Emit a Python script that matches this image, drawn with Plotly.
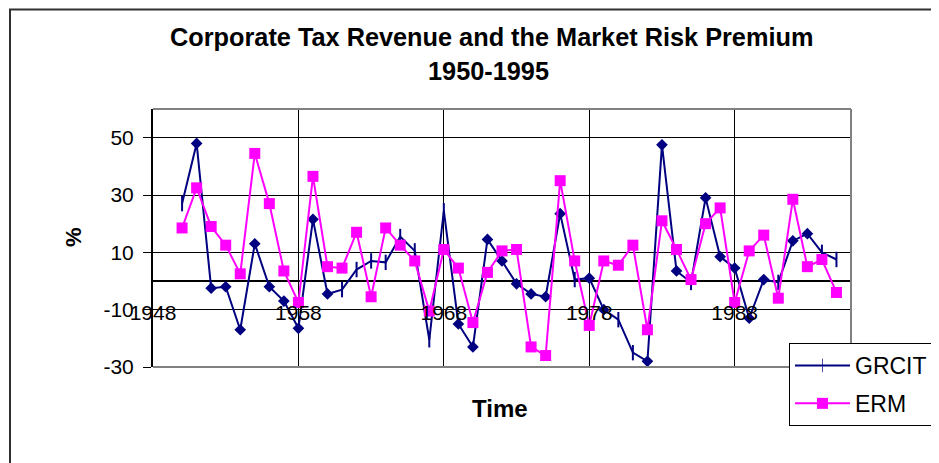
import plotly.graph_objects as go

years = [1950, 1951, 1952, 1953, 1954, 1955, 1956, 1957, 1958, 1959,
         1960, 1961, 1962, 1963, 1964, 1965, 1966, 1967, 1968, 1969,
         1970, 1971, 1972, 1973, 1974, 1975, 1976, 1977, 1978, 1979,
         1980, 1981, 1982, 1983, 1984, 1985, 1986, 1987, 1988, 1989,
         1990, 1991, 1992, 1993, 1994, 1995]

grcit = [27, 48, -2.5, -2, -17, 13, -2, -7, -16.5, 21.5,
         -4.5, -3, 4, 7, 6.5, 15.5, 10.5, -20.5, 24.5, -15,
         -23, 14.5, 7, -1, -4.5, -5.5, 23.5, 0.5, 1, -10,
         -13.5, -25, -28, 47.5, 3.5, -0.5, 29, 8.5, 4.5, -13,
         0.5, -0.5, 14, 16.5, 10, 7.5]

erm = [18.5, 32.5, 19, 12.5, 2.5, 44.5, 27, 3.5, -7.5, 36.5,
       5, 4.5, 17, -5.5, 18.5, 12.5, 7, -10.5, 11, 4.5,
       -14.5, 3, 10.5, 11, -23, -26, 35, 7, -15.5, 7,
       5.5, 12.5, -17, 21, 11, 0.5, 20, 25.5, -7.5, 10.5,
       16, -6, 28.5, 5, 7.5, -4]

# marker style per GRCIT point as seen in the picture ('D' diamond, '+' cross)
grcit_marks = ['+', 'D', 'D', 'D', 'D', 'D', 'D', 'D', 'D', 'D',
               'D', '+', '+', '+', '+', '+', '+', '+', '+', 'D',
               'D', 'D', 'D', 'D', 'D', 'D', 'D', '+', 'D', 'D',
               '+', '+', 'D', 'D', 'D', '+', 'D', 'D', 'D', 'D',
               'D', '+', 'D', 'D', '+', '+']

x_tick_labels = ['1948', '1958', '1968', '1978', '1988']
x_tick_vals = [1948, 1958, 1968, 1978, 1988]
y_tick_vals = [-30, -10, 10, 30, 50]
y_tick_labels = ['-30', '-10', '10', '30', '50']

NAVY = '#000080'
MAG = '#FF00FF'
FONT = 'Liberation Sans, Arial, sans-serif'

# page offset from the default 8px body margin
OFF = 8
W, H = 939 - OFF, 463 - OFF
# plot area in reference-page pixels
L, R, T, B = 153, 851, 109, 367
pw, ph = R - L, B - T


def px(x):
    return (x - L) / pw


def py(y):
    return (B - y) / ph


sym = ['diamond' if m == 'D' else 'line-ns' for m in grcit_marks]
sizes = [9 if m == 'D' else 11 for m in grcit_marks]
lw = [0 if m == 'D' else 2 for m in grcit_marks]

fig = go.Figure()
fig.add_trace(go.Scatter(
    x=years, y=grcit, name='GRCIT', mode='lines+markers',
    line=dict(color=NAVY, width=2),
    marker=dict(symbol=sym, size=sizes, color=NAVY, opacity=1,
                line=dict(color=NAVY, width=lw)),
    legendgroup='a'))
fig.add_trace(go.Scatter(
    x=years, y=erm, name='ERM', mode='lines+markers',
    line=dict(color=MAG, width=2),
    marker=dict(symbol='square', size=11, color=MAG, opacity=1,
                line=dict(color=MAG, width=0)),
    legendgroup='b'))

fig.update_layout(
    width=W, height=H,
    margin=dict(l=L - OFF, r=W - (R - OFF), t=T - OFF, b=H - (B - OFF),
                pad=0, autoexpand=False),
    paper_bgcolor='white', plot_bgcolor='white',
    font=dict(family=FONT, color='black', size=21),
    showlegend=True,
    legend=dict(x=px(789), y=py(343), xanchor='left', yanchor='top',
                bgcolor='white', bordercolor='black', borderwidth=1,
                font=dict(size=23, family=FONT), tracegroupgap=5,
                itemwidth=55, traceorder='grouped'),
    xaxis=dict(range=[1948, 1996], tick0=1948, dtick=10,
               showgrid=True, gridcolor='black', gridwidth=1,
               showticklabels=False, ticks='', showline=False,
               zeroline=False),
    xaxis2=dict(range=[1948, 1996], overlaying='x', anchor='free',
                position=py(298), tickvals=x_tick_vals,
                ticktext=x_tick_labels, showgrid=False, showline=False,
                ticks='', zeroline=False,
                tickfont=dict(size=21, family=FONT, color='black')),
    yaxis=dict(range=[-30, 60], tickvals=y_tick_vals, ticktext=y_tick_labels,
               showgrid=True, gridcolor='black', gridwidth=1,
               zeroline=True, zerolinecolor='black', zerolinewidth=1.5,
               showline=True, linecolor='black', linewidth=2,
               ticks='outside', ticklen=8, tickcolor='black',
               ticklabelstandoff=5,
               tickfont=dict(size=21, family=FONT, color='black')),
)

# invisible trace to activate xaxis2
fig.add_trace(go.Scatter(x=[1948], y=[None], xaxis='x2', showlegend=False,
                         hoverinfo='skip'))

# plot-area border (top, right, bottom) in gray
for x0, y0, x1, y1 in [(0, 1, 1, 1), (1, 0, 1, 1), (0, 0, 1, 0)]:
    fig.add_shape(type='line', xref='paper', yref='paper',
                  x0=x0, y0=y0, x1=x1, y1=y1,
                  line=dict(color='#808080', width=2), layer='above')

# outer chart frame
fig.add_shape(type='rect', xref='paper', yref='paper',
              x0=px(10), y0=py(475), x1=px(950), y1=py(9.5),
              line=dict(color='#303030', width=2), layer='below')

fig.add_annotation(text='<b>Corporate Tax Revenue and the Market Risk Premium</b>',
                   xref='paper', yref='paper', x=px(491), y=py(37.5),
                   showarrow=False, font=dict(size=25.3, family=FONT),
                   xanchor='center', yanchor='middle')
fig.add_annotation(text='<b>1950-1995</b>',
                   xref='paper', yref='paper', x=px(488), y=py(71),
                   showarrow=False, font=dict(size=25.3, family=FONT),
                   xanchor='center', yanchor='middle')
fig.add_annotation(text='<b>Time</b>', xref='paper', yref='paper',
                   x=px(500), y=py(408), showarrow=False,
                   font=dict(size=24, family=FONT),
                   xanchor='center', yanchor='middle')
fig.add_annotation(text='<b>%</b>', xref='paper', yref='paper',
                   x=px(73), y=py(237), showarrow=False, textangle=-90,
                   font=dict(size=22, family=FONT),
                   xanchor='center', yanchor='middle')

fig.write_html('out.html')
